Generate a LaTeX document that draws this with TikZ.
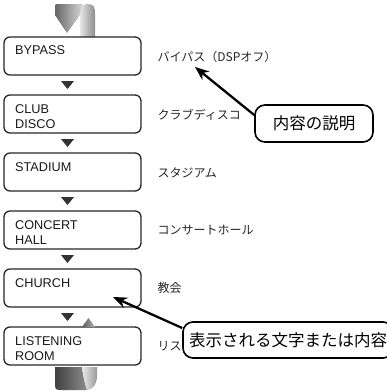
\documentclass[tikz,border=0pt]{standalone}
\usepackage{fontspec}
\setmainfont{Liberation Sans}
\newfontfamily\jp{Noto Sans CJK JP}
\usetikzlibrary{arrows.meta}
\begin{document}
\begin{tikzpicture}[x=1pt,y=-1pt,
  box/.style={draw=black!85,line width=1.3pt,rounded corners=6pt,minimum width=137pt,minimum height=38pt,inner sep=0pt},
  boxtext/.style={font=\fontsize{12.7}{14.5}\selectfont,align=left,inner sep=0pt,anchor=north west,text=black!90},
  lbl/.style={font=\jp\fontsize{12}{13}\selectfont,inner sep=0pt,anchor=west,text=black!85},
  tri/.style={fill=black!80},
  callout/.style={draw=black,line width=1.6pt,rounded corners=10pt,fill=white,font=\jp\fontsize{16.5}{18}\selectfont,inner sep=0pt},
  arr/.style={line width=2.3pt,-{Stealth[length=14pt,width=11pt]}}]
\useasboundingbox (0,0) rectangle (387,391);
\clip (0,0) rectangle (387,391);
% top loop ribbon
\shade[left color=black!10,right color=black!45] (80,37) -- (80,13) .. controls (80,4) and (86,4) .. (88,4) .. controls (94,4) and (95,8) .. (95,13) -- (95,37) -- cycle;
\shade[left color=black!60,right color=black!15] (55,8) .. controls (55,4) .. (59,4) -- (83,4) .. controls (81,7) .. (80,15) -- (67,33) -- (55,15) -- cycle;
% boxes
\node[box] (b1) at (72.5,56) {};
\node[box] (b2) at (72.5,114) {};
\node[box] (b3) at (72.5,172) {};
\node[box] (b4) at (72.5,230) {};
\node[box] (b5) at (72.5,288) {};
\node[box] (b6) at (72.5,346) {};
\node[boxtext] (t1) at (15,45.5) {BYPASS};
\node[boxtext] (t2) at (15,104.5) {CLUB\\DISCO};
\node[boxtext] (t3) at (15,162.5) {STADIUM};
\node[boxtext] (t4) at (15,220.5) {CONCERT\\HALL};
\node[boxtext] (t5) at (15,278.5) {CHURCH};
\node[boxtext] (t6) at (15,336.5) {LISTENING\\ROOM};
% small triangles
\foreach \y in {81,139,197,255,313} {
  \fill[tri] (61,\y) -- (74,\y) -- (67.5,\y+8) -- cycle;
}
% bottom loop
\shade[left color=black!65,right color=black!30] (82,327) -- (88.5,318) -- (95,327) -- cycle;
\shade[left color=black!75,right color=black!45] (55,367) -- (55,382) .. controls (55,390) .. (63,390) -- (87,390) .. controls (84,380) .. (82,367) -- cycle;
\shade[left color=black!8,right color=black!40] (82,367) -- (97,367) -- (97,376) .. controls (97,386) and (91,390) .. (87,390) .. controls (84,380) .. (82,367) -- cycle;
% labels
\node[lbl] (l1) at (157.5,57) {バイパス（DSPオフ）};
\node[lbl] (l2) at (157.5,115) {クラブディスコ};
\node[lbl] (l3) at (157.5,173) {スタジアム};
\node[lbl] (l4) at (157.5,230) {コンサートホール};
\node[lbl] (l5) at (157.5,288) {教会};
\node[lbl] (l6) at (157.5,346) {リス};
% callouts
\node[callout,minimum width=118pt,minimum height=37pt] (c1) at (314,123.5) {内容の説明};
\node[callout,minimum width=210pt,minimum height=36pt] (c2) at (288,340) {表示される文字または内容};
\coordinate (p1) at (195,67);
\coordinate (p2) at (113,297);
\draw[arr] ([yshift=8.5pt]c1.west) -- (p1);
\draw[arr] ([yshift=12pt]c2.west) -- (p2);
\end{tikzpicture}
\end{document}
